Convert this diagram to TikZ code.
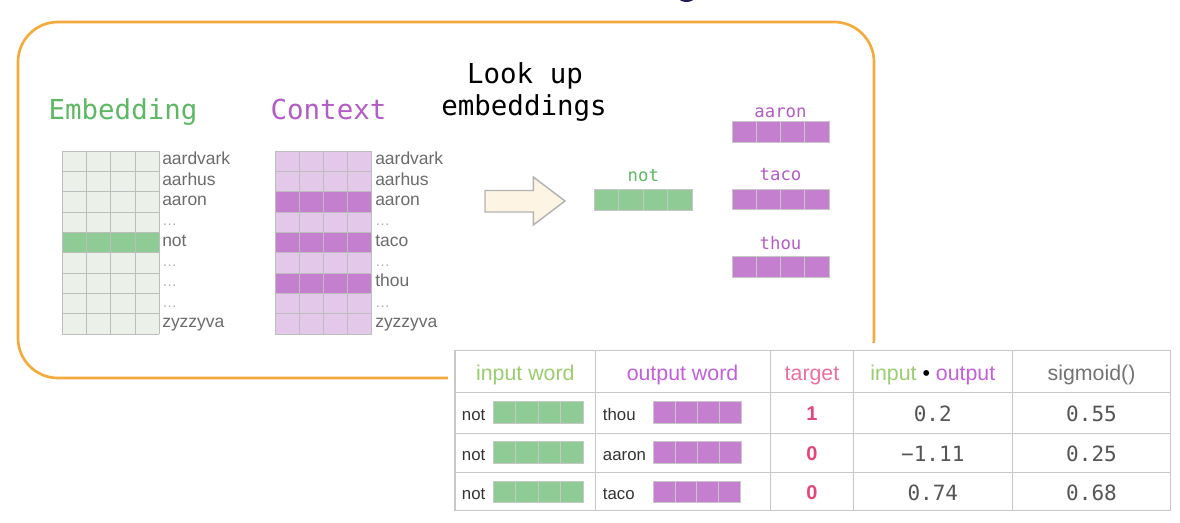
\documentclass[tikz,border=0pt]{standalone}
\usepackage{fontspec}
\setmainfont{Liberation Sans}
\newfontfamily\monofont{DejaVu Sans Mono}
\definecolor{orangeline}{HTML}{F5AA3C}
\definecolor{embgreen}{HTML}{5DB863}
\definecolor{ctxpurple}{HTML}{B45CC6}
\definecolor{lightgreen}{HTML}{EBF1E9}
\definecolor{darkgreen}{HTML}{8FCB94}
\definecolor{lightpurple}{HTML}{E3C8EA}
\definecolor{darkpurple}{HTML}{C47FCE}
\definecolor{gridgray}{HTML}{BDBDBD}
\definecolor{wordgray}{HTML}{6B6B6B}
\definecolor{dotgray}{HTML}{ABABAB}
\definecolor{arrowfill}{HTML}{FDF4E3}
\definecolor{arrowline}{HTML}{B3B3B3}
\definecolor{tablegray}{HTML}{C8C8C8}
\definecolor{hdrgreen}{HTML}{9ACD6E}
\definecolor{hdrpurple}{HTML}{C25FDC}
\definecolor{hdrpink}{HTML}{EE6F9A}
\definecolor{targetpink}{HTML}{E6457A}
\definecolor{numgray}{HTML}{555555}
\definecolor{navyblob}{HTML}{1F1B5C}
\newcommand{\myvec}[5]{%
  \fill[#5] (#1,#2) rectangle (#3,#4);
  \foreach \k in {1,2,3} \draw[cellline] ({#1+(#3-#1)*\k/4},#2) -- ({#1+(#3-#1)*\k/4},#4);
  \draw[cellline] (#1,#2) rectangle (#3,#4);}
\begin{document}
\begin{tikzpicture}[x=0.75pt,y=-0.75pt,
  cellline/.style={draw=black!22,line width=0.6pt},
  gridline/.style={draw=gridgray,line width=0.6pt},
  bigtitle/.style={font=\monofont\fontsize{20.6}{24}\selectfont,anchor=base,inner sep=0pt},
  veclabel/.style={font=\monofont\fontsize{13}{15}\selectfont,anchor=base,inner sep=0pt},
  matword/.style={font=\fontsize{13.1}{15}\selectfont,text=wordgray,anchor=base west,inner sep=0pt},
  matdots/.style={font=\fontsize{11}{13}\selectfont,text=dotgray,anchor=base west,inner sep=0pt},
  hdr/.style={font=\fontsize{16}{19}\selectfont,anchor=base,inner sep=0pt},
  tword/.style={font=\fontsize{12.6}{15}\selectfont,text=black!80,anchor=base west,inner sep=0pt},
  tnum/.style={font=\monofont\fontsize{15.75}{18}\selectfont,text=numgray,anchor=base,inner sep=0pt},
  ttarget/.style={font=\bfseries\fontsize{15}{18}\selectfont,text=targetpink,anchor=base,inner sep=0pt}]
\useasboundingbox (0,0) rectangle (1180,523);
% clipped title glyph at the top
\fill[navyblob] (686.5,-2.5) ellipse (8 and 4.5);
% orange frame
\draw[orangeline,line width=2pt,rounded corners=30pt] (18,22) rectangle (874,378);
% titles
\node[bigtitle,text=embgreen] (embtitle) at (123,120) {Embedding};
\node[bigtitle,text=ctxpurple] (ctxtitle) at (328.5,120) {Context};
\node[bigtitle,text=black] (look1) at (525,84) {Look up};
\node[bigtitle,text=black] (look2) at (524,116) {embeddings};
% embedding matrix
\foreach \r in {0,...,8} {
  \pgfmathsetmacro{\ya}{151+20.33*\r}
  \pgfmathsetmacro{\yb}{151+20.33*(\r+1)}
  \ifnum\r=4 \fill[darkgreen] (62.3,\ya) rectangle (159.3,\yb);
  \else \fill[lightgreen] (62.3,\ya) rectangle (159.3,\yb); \fi
}
\foreach \r in {0,...,9} \draw[gridline] (62.3,{151+20.33*\r}) -- (159.3,{151+20.33*\r});
\foreach \c in {0,...,4} \draw[gridline] ({62.3+24.25*\c},151) -- ({62.3+24.25*\c},334);
% context matrix
\foreach \r in {0,...,8} {
  \pgfmathsetmacro{\ya}{151+20.33*\r}
  \pgfmathsetmacro{\yb}{151+20.33*(\r+1)}
  \ifnum\r=2 \fill[darkpurple] (275,\ya) rectangle (371.7,\yb);
  \else\ifnum\r=4 \fill[darkpurple] (275,\ya) rectangle (371.7,\yb);
  \else\ifnum\r=6 \fill[darkpurple] (275,\ya) rectangle (371.7,\yb);
  \else \fill[lightpurple] (275,\ya) rectangle (371.7,\yb); \fi\fi\fi
}
\foreach \r in {0,...,9} \draw[gridline] (275,{151+20.33*\r}) -- (371.7,{151+20.33*\r});
\foreach \c in {0,...,4} \draw[gridline] ({275+24.175*\c},151) -- ({275+24.175*\c},334);
% matrix labels
\foreach \x/\p in {162/e,375/c} {
  \node[matword] (\p w0) at (\x,165) {aardvark};
  \node[matword] (\p w1) at (\x,185.3) {aarhus};
  \node[matword] (\p w2) at (\x,205.7) {aaron};
  \node[matdots] (\p w3) at (\x,226) {…};
  \node[matdots] (\p w5) at (\x,266.7) {…};
  \node[matdots] (\p w7) at (\x,307.3) {…};
  \node[matword] (\p w8) at (\x,327.7) {zyzzyva};
}
\node[matword] (ew4) at (162,246.3) {not};
\node[matdots] (ew6) at (162,287) {…};
\node[matword] (cw4) at (375,246.3) {taco};
\node[matword] (cw6) at (375,287) {thou};
% look-up arrow
\draw[arrowline,fill=arrowfill,line width=1.1pt,line join=miter]
  (485,190.5) -- (533.3,190.5) -- (533.3,177) -- (565,201) -- (533.3,225) -- (533.3,212) -- (485,212) -- cycle;
% looked-up vectors
\node[veclabel,text=embgreen] (notlab) at (643.3,182) {not};
\myvec{594.3}{189}{692.3}{210}{darkgreen}
\node[veclabel,text=ctxpurple] (aaronlab) at (780.5,117.7) {aaron};
\myvec{732}{121}{829}{142}{darkpurple}
\node[veclabel,text=ctxpurple] (tacolab) at (780.5,181) {taco};
\myvec{732}{189}{829}{209.3}{darkpurple}
\node[veclabel,text=ctxpurple] (thoulab) at (780.5,249.3) {thou};
\myvec{732}{256.7}{829}{277.3}{darkpurple}
% table
\fill[white] (448,343) rectangle (1180,523);
\draw[tablegray,line width=1.1pt] (455,350.7) rectangle (1170.7,510.7);
\foreach \y in {392.7,433.3,472.3} \draw[tablegray,line width=1.1pt] (455,\y) -- (1170.7,\y);
\foreach \x in {595.7,770.7,853.3,1012.3} \draw[tablegray,line width=1.1pt] (\x,350.7) -- (\x,510.7);
\node[hdr,text=hdrgreen] (h1) at (525.3,381) {input word};
\node[hdr,text=hdrpurple] (h2) at (682.5,381) {output word};
\node[hdr,text=hdrpink] (h3) at (812,381) {target};
\node[hdr] (h4) at (932.8,381) {\textcolor{hdrgreen}{input} \textcolor{black}{•} \textcolor{hdrpurple}{output}};
\node[hdr,text=black!55] (h5) at (1091.5,381) {sigmoid()};
% rows
\node[tword] (r1in) at (461.7,421) {not};
\myvec{493.3}{401}{583.3}{423.3}{darkgreen}
\node[tword] (r1out) at (602.7,421) {thou};
\myvec{653.3}{401}{741.7}{423.3}{darkpurple}
\node[ttarget] (r1t) at (812,421) {1};
\node[tnum] (r1d) at (932.8,421.5) {0.2};
\node[tnum] (r1s) at (1091.5,421.5) {0.55};
\node[tword] (r2in) at (461.7,460.5) {not};
\myvec{493.3}{441}{583.3}{463.3}{darkgreen}
\node[tword] (r2out) at (602.7,460.5) {aaron};
\myvec{653.3}{441}{741.7}{463.3}{darkpurple}
\node[ttarget] (r2t) at (812,460.5) {0};
\node[tnum] (r2d) at (932.8,461) {−1.11};
\node[tnum] (r2s) at (1091.5,461) {0.25};
\node[tword] (r3in) at (461.7,499.5) {not};
\myvec{493.3}{481}{583.3}{502.7}{darkgreen}
\node[tword] (r3out) at (602.7,499.5) {taco};
\myvec{653.3}{481}{740}{502.7}{darkpurple}
\node[ttarget] (r3t) at (812,499.5) {0};
\node[tnum] (r3d) at (932.8,500) {0.74};
\node[tnum] (r3s) at (1091.5,500) {0.68};
\end{tikzpicture}
\end{document}
